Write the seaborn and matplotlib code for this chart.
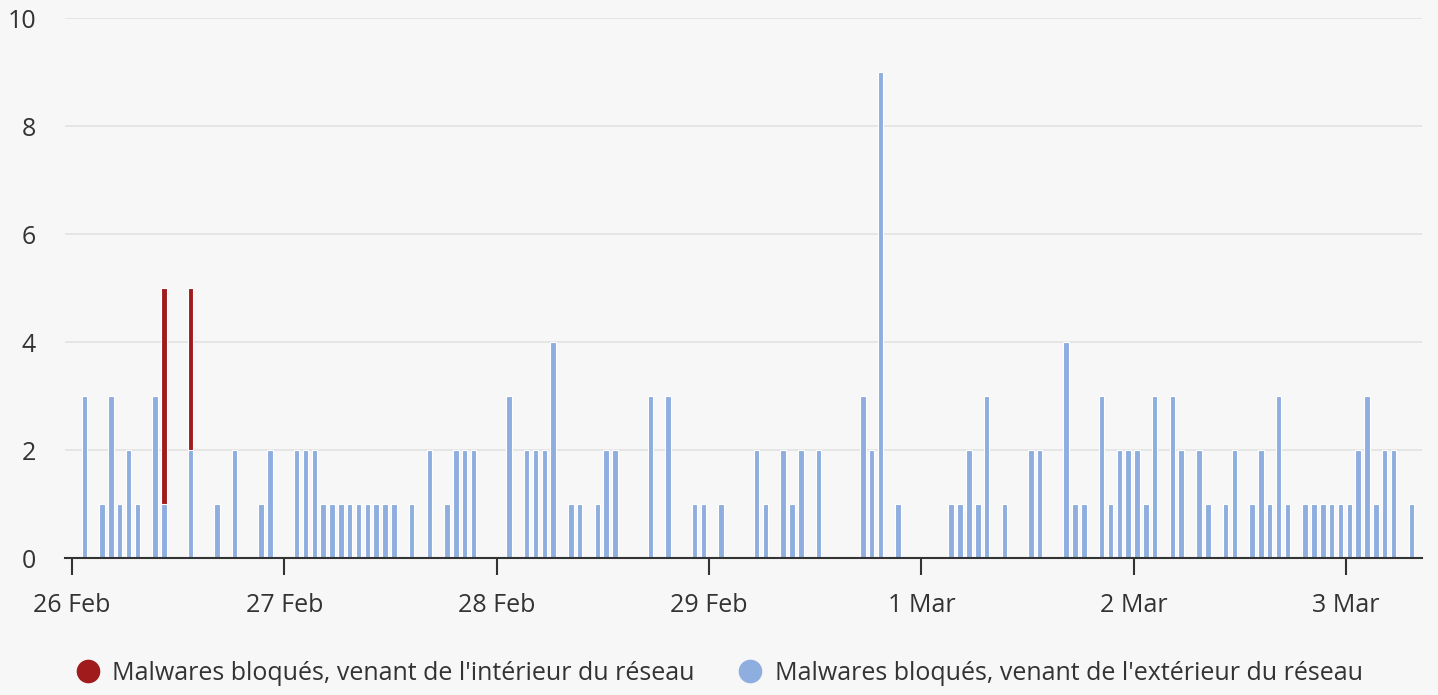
import numpy as np
import pandas as pd
import matplotlib
matplotlib.use("Agg")
import matplotlib.pyplot as plt
from matplotlib.lines import Line2D
import seaborn as sns

# hourly bins, hour 0 = 26 Feb 00:00
blue_hours = [1, 3, 4, 5, 6, 7, 9, 10, 13, 16, 18, 21, 22, 25, 26, 27, 28, 29, 30,
              31, 32, 33, 34, 35, 36, 38, 40, 42, 43, 44, 45, 49, 51, 52, 53, 54,
              56, 57, 59, 60, 61, 65, 67, 70, 71, 73, 77, 78, 80, 81, 82, 84, 89,
              90, 91, 93, 99, 100, 101, 102, 103, 105, 108, 109, 112, 113, 114,
              116, 117, 118, 119, 120, 121, 122, 124, 125, 127, 128, 130, 131,
              133, 134, 135, 136, 137, 139, 140, 141, 142, 143, 144, 145, 146,
              147, 148, 149, 151]
blue_counts = [3, 1, 3, 1, 2, 1, 3, 1, 2, 1, 2, 1, 2, 2, 2, 2, 1, 1, 1,
               1, 1, 1, 1, 1, 1, 1, 2, 1, 2, 2, 2, 3, 2, 2, 2, 4,
               1, 1, 1, 2, 2, 3, 3, 1, 1, 1, 2, 1, 2, 1, 2, 2, 3,
               2, 9, 1, 1, 1, 2, 1, 3, 1, 2, 2, 4, 1, 1,
               3, 1, 2, 2, 2, 1, 3, 3, 2, 2, 1, 1, 2,
               1, 2, 1, 3, 1, 1, 1, 1, 1, 1, 1, 2, 3,
               1, 2, 2, 1]
red_hours = [10, 13]
red_counts = [4, 3]

day_labels = ["26 Feb", "27 Feb", "28 Feb", "29 Feb", "1 Mar", "2 Mar", "3 Mar"]
label_in = "Malwares bloqués, venant de l'intérieur du réseau"
label_out = "Malwares bloqués, venant de l'extérieur du réseau"

blue_col = "#8eaee0"
red_col = "#a01b1b"
text_col = "#333333"
bg = "#f7f7f7"

# full hourly table
hours = np.arange(0, 153)
df = pd.DataFrame({"hour": hours})
df["blue"] = pd.Series(blue_counts, index=blue_hours).reindex(hours, fill_value=0).values
df["red"] = pd.Series(red_counts, index=red_hours).reindex(hours, fill_value=0).values
df["total"] = df["blue"] + df["red"]
df["x"] = df["hour"] + 0.38  # bins are slightly past the hour

sns.set_theme(style="whitegrid", rc={
    "axes.facecolor": bg, "figure.facecolor": bg,
    "grid.color": "#e4e4e4", "grid.linewidth": 1.3,
})
plt.rcParams["font.family"] = ["Open Sans", "DejaVu Sans"]

fig, ax = plt.subplots(figsize=(14.38, 6.95), dpi=100)
fig.subplots_adjust(left=0.0452, right=0.9889, top=0.974, bottom=0.197)

# stacked look: red totals first, blue on top
sns.barplot(data=df, x="x", y="total", native_scale=True, width=0.62,
            color=red_col, saturation=1, errorbar=None,
            edgecolor="white", linewidth=0.8, ax=ax)
sns.barplot(data=df, x="x", y="blue", native_scale=True, width=0.62,
            color=blue_col, saturation=1, errorbar=None,
            edgecolor="white", linewidth=0.8, ax=ax)

ax.set_xlim(-0.8, 152.6)
ax.set_ylim(0, 10)
ax.set_yticks([0, 2, 4, 6, 8, 10])
ax.set_xticks(np.arange(0, 24 * len(day_labels), 24))
ax.set_xticklabels(day_labels)
ax.set_xlabel("")
ax.set_ylabel("")
ax.grid(axis="x", visible=False)
ax.grid(axis="y", visible=True)

for s in ["top", "right", "left"]:
    ax.spines[s].set_visible(False)
ax.spines["bottom"].set_color("#333333")
ax.spines["bottom"].set_linewidth(1.5)

ax.tick_params(axis="x", bottom=True, length=12, width=1.5, color="#333333",
               labelsize=18, labelcolor=text_col, pad=13)
ax.tick_params(axis="y", left=False, labelsize=18, labelcolor=text_col, pad=15)

handles = [
    Line2D([], [], marker="o", linestyle="", markersize=16, color=red_col),
    Line2D([], [], marker="o", linestyle="", markersize=16, color=blue_col),
]
fig.legend(handles, [label_in, label_out], loc="center", ncol=2,
           bbox_to_anchor=(0.5, 0.031), frameon=False, fontsize=18,
           labelcolor=text_col, handletextpad=0.5, columnspacing=1.7,
           handlelength=1.0)

fig.savefig("out.png", dpi=100, facecolor=bg)
